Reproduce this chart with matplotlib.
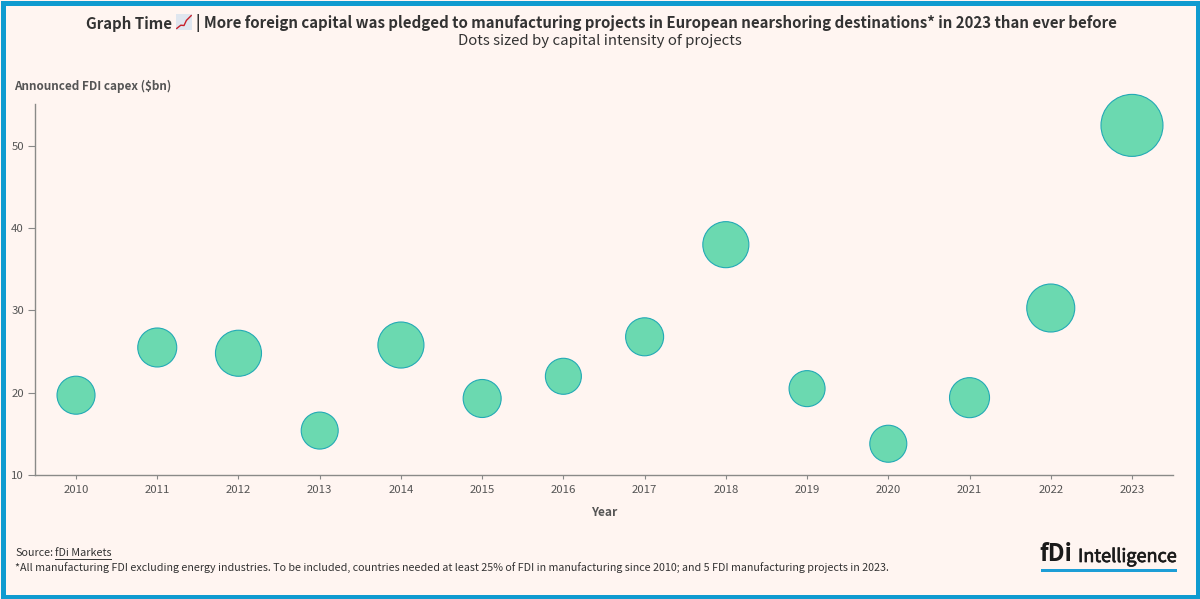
import matplotlib
matplotlib.use('Agg')
import matplotlib.pyplot as plt
import matplotlib.patheffects as pe
import numpy as np
from matplotlib.patches import Rectangle

# Data
years = [2010, 2011, 2012, 2013, 2014, 2015, 2016, 2017, 2018, 2019, 2020, 2021, 2022, 2023]
capex = [19.7, 25.5, 24.8, 15.4, 25.8, 19.3, 22.0, 26.8, 38.0, 20.5, 13.8, 19.4, 30.3, 52.5]
# no scale on the source, relative units
intensity = [361, 380, 530, 342, 530, 361, 324, 361, 530, 324, 342, 400, 576, 961]

title_left = 'Graph Time'
title_right = '| More foreign capital was pledged to manufacturing projects in European nearshoring destinations* in 2023 than ever before'
subtitle = 'Dots sized by capital intensity of projects'
footnote = '*All manufacturing FDI excluding energy industries. To be included, countries needed at least 25% of FDI in manufacturing since 2010; and 5 FDI manufacturing projects in 2023.'

BG = '#fff5f1'
BLUE = '#0f9bd0'
DARK = '#333333'
GREY = '#555555'
W, H = 1200, 599

plt.rcParams['font.family'] = ['Noto Sans CJK SC', 'DejaVu Sans']

fig = plt.figure(figsize=(12, 5.99), dpi=100, facecolor=BG)


def px(x, y):
    # pixel position from the top left -> figure fraction
    return x / W, 1 - y / H


def label(x, y, s, **kw):
    fx, fy = px(x, y)
    kw.setdefault('va', 'center')
    return fig.text(fx, fy, s, **kw)


# axes
ax = fig.add_axes([35 / W, 1 - 475 / H, (1173 - 35) / W, (475 - 104) / H])
ax.set_facecolor('none')
ax.scatter(years, capex, s=np.array(intensity) * 4 * 0.72 ** 2, color='#6bd9b0',
           edgecolor='#22aab5', linewidth=0.8, zorder=3, clip_on=False)
ax.set_xlim(2009.495, 2023.505)
ax.set_ylim(10, 55.1)
ax.set_xticks(years)
ax.set_yticks([10, 20, 30, 40, 50])
ax.tick_params(axis='x', length=3, width=0.8, color='#888888', labelsize=8.2, labelcolor=GREY, pad=4)
ax.tick_params(axis='y', length=5, width=0.8, color='#888888', labelsize=8.2, labelcolor=GREY, pad=3)
for side in ['top', 'right']:
    ax.spines[side].set_visible(False)
for side in ['left', 'bottom']:
    ax.spines[side].set_color('#8a8a88')
    ax.spines[side].set_linewidth(1.0)

# titles
label(86, 23.5, title_left, fontsize=10.8, fontweight='bold', color=DARK, ha='left')
label(196, 23.5, title_right, fontsize=10.8, fontweight='bold', color=DARK, ha='left')
label(600, 40.5, subtitle, fontsize=10.8, color=DARK, ha='center')

# little chart emoji next to the title
x0, y1 = px(176, 30)
emoji = fig.add_axes([x0, y1, 16 / W, 16 / H])
emoji.set_facecolor('#dfe6ef')
emoji.set_xticks([])
emoji.set_yticks([])
for s in emoji.spines.values():
    s.set_visible(False)
emoji.plot([0.05, 0.3, 0.5, 0.65, 0.95], [0.1, 0.3, 0.28, 0.6, 0.9], color='#c8202a', lw=1.0)
emoji.set_xlim(0, 1)
emoji.set_ylim(0, 1)

# axis titles
label(14, 86.5, 'Announced FDI capex ($bn)', fontsize=8.45, fontweight='bold', color=GREY, ha='left')
label(604, 512.5, 'Year', fontsize=8.6, fontweight='bold', color=GREY, ha='center')

# source + note
label(15, 552.5, 'Source:', fontsize=7.75, color=DARK, ha='left')
label(55, 552.5, 'fDi Markets', fontsize=7.75, color=DARK, ha='left')
fig.add_artist(plt.Line2D([55 / W, 111 / W], [1 - 558.5 / H] * 2, color=DARK, lw=0.7))
label(15, 567.5, footnote, fontsize=7.73, color=DARK, ha='left')

# logo
label(1039, 554, 'fDi', fontsize=17, fontweight='bold', color='#1a1a1a', ha='left')
t = label(1078, 557, 'Intelligence', fontsize=13, color='#1a1a1a', ha='left')
t.set_path_effects([pe.withStroke(linewidth=0.5, foreground='#1a1a1a')])
fig.add_artist(Rectangle(px(1041, 572), 136 / W, 3.5 / H, transform=fig.transFigure,
                         facecolor='#1d9ed6', edgecolor='none'))

# blue frame round the figure
fig.add_artist(Rectangle((2.5 / W, 2.5 / H), (W - 5) / W, (H - 5) / H, transform=fig.transFigure,
                         facecolor='none', edgecolor=BLUE, linewidth=3.6))

fig.savefig('out.png', dpi=100, facecolor=BG)
